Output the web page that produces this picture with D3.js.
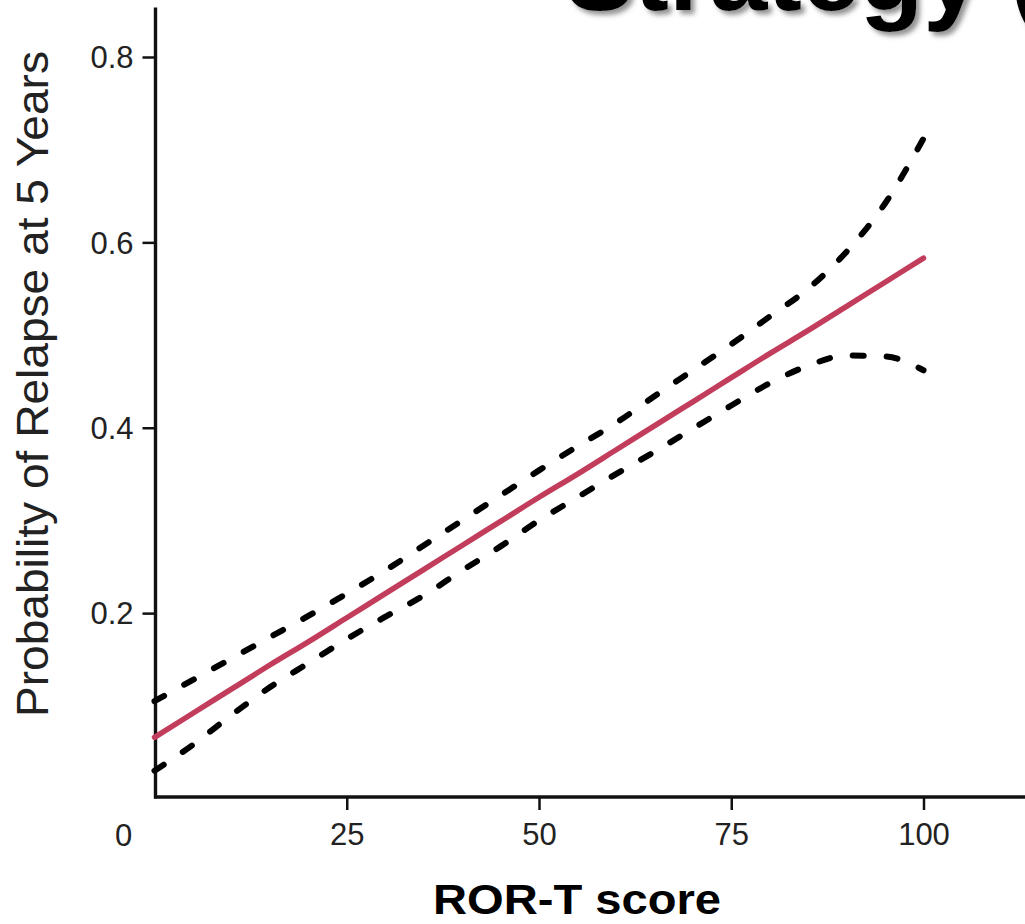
<!DOCTYPE html>
<html>
<head>
<meta charset="utf-8">
<script src="https://cdn.jsdelivr.net/npm/d3@7"></script>
<style>
  html, body { margin: 0; padding: 0; background: #fff; }
  svg { display: block; }
</style>
</head>
<body>
<script>
// ---- data ----
const scores = [0, 5, 10, 15, 20, 25, 30, 35, 40, 45, 50, 55, 60, 65, 70, 75, 80, 85, 90, 95, 100];
const estimate = [0.066, 0.092, 0.118, 0.144, 0.169, 0.195, 0.221, 0.247, 0.273, 0.299, 0.325,
                  0.350, 0.376, 0.402, 0.428, 0.454, 0.480, 0.505, 0.531, 0.557, 0.583];
const upperCI = [0.105, 0.128, 0.151, 0.174, 0.197, 0.221, 0.246, 0.273, 0.300, 0.327, 0.354,
                 0.380, 0.405, 0.434, 0.462, 0.490, 0.520, 0.550, 0.590, 0.642, 0.712];
const lowerCI = [0.030, 0.058, 0.090, 0.120, 0.146, 0.172, 0.196, 0.219, 0.246, 0.272, 0.300,
                 0.325, 0.350, 0.374, 0.399, 0.424, 0.448, 0.467, 0.478, 0.477, 0.462];
const xTickValues = [25, 50, 75, 100];
const yTickValues = [0.2, 0.4, 0.6, 0.8];
const originLabel = "0";
const xTitle = "ROR-T score";
const yTitle = "Probability of Relapse at 5 Years";
const slideTitle = "Strategy (";

// ---- layout ----
const W = 1025, H = 924;
const svg = d3.select("body").append("svg").attr("width", W).attr("height", H);

const x = d3.scaleLinear().domain([0, 100]).range([154.5, 923.5]);
const y = d3.scaleLinear().domain([0, 0.8]).range([798.5, 57]);

const font = "'Liberation Sans', Arial, Helvetica, sans-serif";

// slide title (cut at top, as in the reference)
const defs = svg.append("defs");
const f = defs.append("filter").attr("id", "shadow").attr("x", "-10%").attr("y", "-50%").attr("width", "130%").attr("height", "200%");
f.append("feDropShadow").attr("dx", 4).attr("dy", 4).attr("stdDeviation", 2.5)
  .attr("flood-color", "#777").attr("flood-opacity", 0.8);

svg.append("text")
  .attr("x", 565).attr("y", 10)
  .attr("font-family", font).attr("font-weight", "bold").attr("font-size", 104)
  .attr("fill", "#000").attr("filter", "url(#shadow)")
  .text(slideTitle);

// axes
const gx = svg.append("g").attr("transform", `translate(0,${y(0) - 1.5})`)
  .call(d3.axisBottom(x).tickValues(xTickValues).tickSize(13).tickSizeOuter(0).tickPadding(13));
const gy = svg.append("g").attr("transform", `translate(${x(0) + 1},0)`)
  .call(d3.axisLeft(y).tickValues(yTickValues).tickSize(13).tickSizeOuter(0).tickPadding(9)
        .tickFormat(d3.format(".1f")));

[gx, gy].forEach(g => {
  g.select(".domain").remove();
  g.selectAll(".tick line").attr("stroke", "#111").attr("stroke-width", 2.5);
  g.selectAll(".tick text").attr("font-family", font).attr("font-size", 31)
    .attr("fill", "#222");
});
gy.selectAll(".tick text").attr("dy", "0.35em");

// axis lines
svg.append("line")
  .attr("x1", x(0) + 1).attr("x2", x(0) + 1)
  .attr("y1", y(0)).attr("y2", y(0.8535))
  .attr("stroke", "#111").attr("stroke-width", 3.4);
svg.append("line")
  .attr("x1", x(0) - 0.5).attr("x2", x(114))
  .attr("y1", y(0) - 1.5).attr("y2", y(0) - 1.5)
  .attr("stroke", "#111").attr("stroke-width", 3.4);

// origin label
svg.append("text")
  .attr("x", x(0) - 31).attr("y", y(0) + 47)
  .attr("text-anchor", "middle")
  .attr("font-family", font).attr("font-size", 31).attr("fill", "#222")
  .text(originLabel);

// lines
const mk = vals => d3.line()
  .x((d, i) => x(scores[i]))
  .y(d => y(d))
  .curve(d3.curveMonotoneX)(vals);

svg.append("path").attr("d", mk(upperCI))
  .attr("fill", "none").attr("stroke", "#000").attr("stroke-width", 6)
  .attr("stroke-linecap", "round").attr("stroke-dasharray", "11,23");
svg.append("path").attr("d", mk(lowerCI))
  .attr("fill", "none").attr("stroke", "#000").attr("stroke-width", 6)
  .attr("stroke-linecap", "round").attr("stroke-dasharray", "11,23");
svg.append("path").attr("d", mk(estimate))
  .attr("fill", "none").attr("stroke", "#c23d5c").attr("stroke-width", 5.5)
  .attr("stroke-linecap", "round");

// axis titles
svg.append("text")
  .attr("x", 577).attr("y", 914)
  .attr("text-anchor", "middle")
  .attr("font-family", font).attr("font-weight", "bold").attr("font-size", 42)
  .attr("textLength", 288).attr("lengthAdjust", "spacingAndGlyphs")
  .attr("fill", "#000")
  .text(xTitle);

svg.append("text")
  .attr("transform", "translate(48,384) rotate(-90)")
  .attr("text-anchor", "middle")
  .attr("font-family", font).attr("font-size", 45).attr("fill", "#222")
  .attr("textLength", 666).attr("lengthAdjust", "spacingAndGlyphs")
  .text(yTitle);
</script>
</body>
</html>
